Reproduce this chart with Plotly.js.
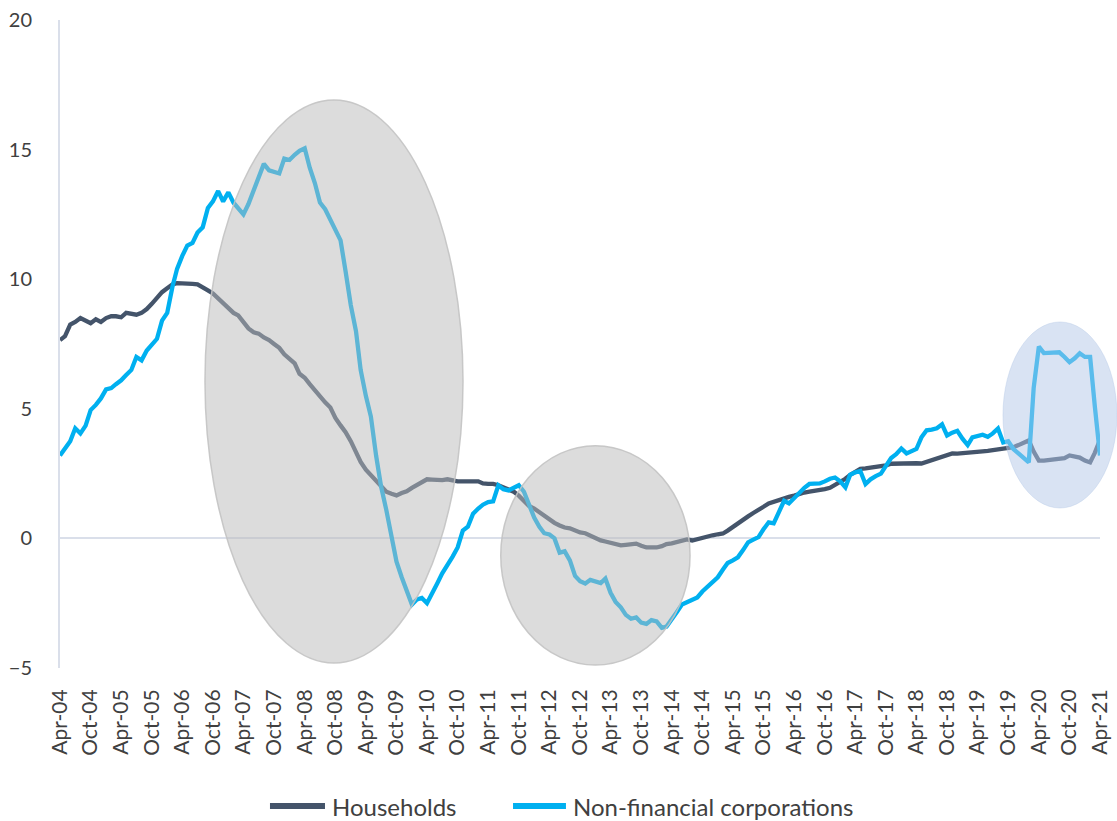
<!DOCTYPE html>
<html>
<head>
<meta charset="utf-8">
<script src="https://cdn.plot.ly/plotly-3.0.1.min.js"></script>
<style>html,body{margin:0;padding:0;background:#fff;}#chart{width:1117px;height:821px;}</style>
</head>
<body>
<div id="chart"></div>
<script>
// Monthly series, Apr-2004 .. Apr-2021 (205 months)
var startYear = 2004, startMonth = 4, nMonths = 205;

var households = [
 7.65,7.8,8.25,8.35,8.5,8.4,8.3,8.45,8.35,8.5,8.57,8.57,
 8.53,8.7,8.65,8.63,8.7,8.85,9.05,9.3,9.5,9.65,9.8,9.85,
 9.85,9.84,9.82,9.8,9.7,9.57,9.45,9.26,9.05,8.85,8.7,8.6,
 8.35,8.1,7.95,7.9,7.75,7.65,7.5,7.35,7.1,6.9,6.75,6.35,
 6.2,5.95,5.7,5.5,5.25,5.05,4.65,4.36,4.1,3.75,3.3,2.95,
 2.65,2.45,2.25,2.0,1.8,1.72,1.66,1.75,1.82,1.95,2.05,2.18,
 2.28,2.27,2.24,2.25,2.28,2.22,2.2,2.2,2.22,2.2,2.2,2.12,
 2.1,2.1,2.05,1.98,1.9,1.8,1.65,1.45,1.25,1.15,1.0,0.85,
 0.75,0.6,0.5,0.42,0.39,0.3,0.23,0.2,0.1,0.0,-0.08,-0.12,
 -0.18,-0.22,-0.27,-0.25,-0.22,-0.2,-0.28,-0.35,-0.35,-0.35,-0.3,-0.22,
 -0.19,-0.15,-0.08,-0.04,-0.08,-0.02,0.04,0.08,0.12,0.16,0.19,0.3,
 0.45,0.55,0.7,0.85,0.98,1.08,1.22,1.35,1.42,1.5,1.55,1.6,
 1.65,1.72,1.77,1.8,1.82,1.85,1.9,1.95,2.05,2.15,2.3,2.45,
 2.55,2.68,2.7,2.72,2.74,2.78,2.82,2.88,2.89,2.9,2.88,2.9,
 2.9,2.89,2.95,3.02,3.08,3.12,3.2,3.28,3.27,3.28,3.3,3.3,
 3.33,3.36,3.38,3.4,3.42,3.45,3.47,3.52,3.6,3.7,3.78,3.35,
 3.0,3.0,3.02,3.05,3.05,3.1,3.2,3.15,3.12,3.0,2.93,3.3,
 3.8
];

var nonFinancial = [
 3.2,3.45,3.75,4.25,4.05,4.35,4.95,5.15,5.4,5.75,5.8,5.95,
 6.1,6.3,6.5,7.0,6.87,7.25,7.5,7.7,8.4,8.7,9.7,10.4,
 10.9,11.3,11.4,11.8,12.0,12.75,13.0,13.4,13.0,13.35,12.95,12.75,
 12.5,12.9,13.45,13.9,14.45,14.2,14.12,14.08,14.65,14.6,14.8,14.95,
 15.05,14.3,13.7,12.96,12.7,12.3,11.85,11.5,10.3,9.0,8.0,6.5,
 5.5,4.7,3.2,2.0,1.1,0.1,-0.9,-1.5,-2.0,-2.55,-2.35,-2.3,
 -2.5,-2.15,-1.74,-1.35,-1.05,-0.7,-0.35,0.3,0.45,0.95,1.15,1.3,
 1.4,1.43,2.05,1.9,1.85,1.95,2.05,1.8,1.3,0.8,0.45,0.2,
 0.15,0.0,-0.55,-0.5,-0.85,-1.45,-1.65,-1.74,-1.6,-1.65,-1.72,-1.55,
 -2.1,-2.45,-2.66,-2.95,-3.1,-3.05,-3.25,-3.3,-3.15,-3.2,-3.45,-3.4,
 -3.15,-2.85,-2.55,-2.45,-2.35,-2.28,-2.05,-1.85,-1.65,-1.5,-1.2,-0.95,
 -0.85,-0.73,-0.45,-0.15,-0.05,0.05,0.35,0.62,0.58,1.0,1.45,1.35,
 1.55,1.77,1.95,2.1,2.12,2.12,2.2,2.3,2.35,2.2,1.97,2.45,
 2.55,2.6,2.1,2.28,2.4,2.5,2.8,3.1,3.25,3.47,3.28,3.35,
 3.45,3.9,4.17,4.2,4.25,4.4,3.97,4.08,4.15,3.85,3.6,3.9,
 3.95,4.0,3.92,4.05,4.24,3.7,3.75,3.45,3.28,3.1,2.93,5.8,
 7.4,7.15,7.15,7.15,7.18,7.0,6.8,6.95,7.14,7.0,7.0,5.1,
 3.2
];

var seriesNames = ["Households", "Non-financial corporations"];
var seriesColors = ["#44546a", "#00b0f0"];

var months = [];
for (var k = 0; k < nMonths; k++) {
  var m = startMonth - 1 + k;
  var y = startYear + Math.floor(m / 12);
  var mm = (m % 12) + 1;
  months.push(y + "-" + (mm < 10 ? "0" + mm : mm) + "-01");
}

var font = "Lato, Open Sans, sans-serif";
var textColor = "#404040";

var traces = [
  {x: months, y: households, type: "scatter", mode: "lines", name: seriesNames[0],
   line: {color: seriesColors[0], width: 4.3}},
  {x: months, y: nonFinancial, type: "scatter", mode: "lines", name: seriesNames[1],
   line: {color: seriesColors[1], width: 4.3}}
];

// manual legend (placed in the bottom margin)
var legendY = -0.213;
var legendItems = [
  {x0: 0.2019, x1: 0.2548, tx: 0.2596},
  {x0: 0.4356, x1: 0.4865, tx: 0.4913}
];
var legendShapes = [], legendAnn = [];
legendItems.forEach(function (it, i) {
  legendShapes.push({type: "line", xref: "paper", yref: "paper", x0: it.x0, x1: it.x1, y0: legendY, y1: legendY,
    line: {color: seriesColors[i], width: 6}});
  legendAnn.push({xref: "paper", yref: "paper", x: it.tx, y: legendY, xanchor: "left", yanchor: "middle",
    text: seriesNames[i], showarrow: false, font: {family: font, size: 24, color: textColor}});
});

var layout = {
  width: 1117, height: 821,
  margin: {l: 60, r: 17, t: 20, b: 153},
  paper_bgcolor: "#ffffff", plot_bgcolor: "#ffffff",
  font: {family: font, color: textColor},
  showlegend: false,
  xaxis: {
    type: "date",
    range: ["2004-04-01", "2021-04-01"],
    tick0: "2004-04-01", dtick: "M6", tickformat: "%b-%y",
    tickangle: -90, ticks: "outside", ticklen: 12, tickcolor: "rgba(0,0,0,0)",
    tickfont: {family: font, size: 21, color: textColor},
    showgrid: false, zeroline: false, showline: false
  },
  yaxis: {
    range: [-5, 20], dtick: 5, tick0: 0,
    ticks: "outside", ticklen: 22, tickcolor: "rgba(0,0,0,0)",
    tickfont: {family: font, size: 20, color: textColor},
    showgrid: false,
    zeroline: true, zerolinecolor: "#dadfea", zerolinewidth: 2,
    showline: true, linecolor: "#dadfea", linewidth: 2
  },
  annotations: legendAnn,
  shapes: [
    {type: "circle", xref: "paper", yref: "paper", x0: 0.1394, x1: 0.3875, y0: 0.0077, y1: 0.8765,
     fillcolor: "rgba(185,185,185,0.5)", line: {color: "rgba(195,195,195,0.9)", width: 1.5}, layer: "above"},
    {type: "circle", xref: "paper", yref: "paper", x0: 0.4238, x1: 0.6058, y0: 0.0046, y1: 0.343,
     fillcolor: "rgba(185,185,185,0.5)", line: {color: "rgba(195,195,195,0.9)", width: 1.5}, layer: "above"},
    {type: "circle", xref: "paper", yref: "paper", x0: 0.9067, x1: 1.0163, y0: 0.2469, y1: 0.534,
     fillcolor: "rgba(180,199,231,0.5)", line: {color: "rgba(180,199,231,0.4)", width: 1}, layer: "above"}
  ].concat(legendShapes)
};

Plotly.newPlot("chart", traces, layout, {displayModeBar: false, staticPlot: true});
</script>
</body>
</html>
